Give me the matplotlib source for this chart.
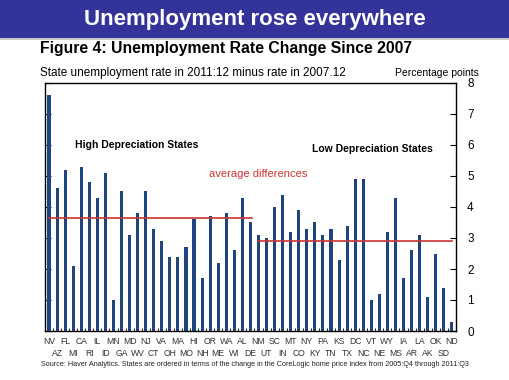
import numpy as np
import matplotlib
matplotlib.use("Agg")
import matplotlib.pyplot as plt
from matplotlib.patches import Rectangle
from matplotlib.transforms import blended_transform_factory, offset_copy

plt.rcParams['font.family'] = ['Liberation Sans', 'DejaVu Sans']

# states ordered by change in home price index (high depreciation first)
states = ["NV", "AZ", "FL", "MI", "CA", "RI", "IL", "ID", "MN", "GA", "MD", "WV", "NJ",
          "CT", "VA", "OH", "MA", "MO", "HI", "NH", "OR", "ME", "WA", "WI", "AL", "DE",
          "NM", "UT", "SC", "IN", "MT", "CO", "NY", "KY", "PA", "TN", "KS", "TX", "DC",
          "NC", "VT", "NE", "WY", "MS", "IA", "AR", "LA", "AK", "OK", "SD", "ND"]
change = [7.6, 4.6, 5.2, 2.1, 5.3, 4.8, 4.3, 5.1, 1.0, 4.5, 3.1, 3.8, 4.5,
          3.3, 2.9, 2.4, 2.4, 2.7, 3.6, 1.7, 3.7, 2.2, 3.8, 2.6, 4.3, 3.5,
          3.1, 3.0, 4.0, 4.4, 3.2, 3.9, 3.3, 3.5, 3.1, 3.3, 2.3, 3.4, 4.9,
          4.9, 1.0, 1.2, 3.2, 4.3, 1.7, 2.6, 3.1, 1.1, 2.5, 1.4, 0.3]
n_high = 26  # NV..DE are the high depreciation group

bar_color = "#1F447F"
red = "#CC3333"

fig = plt.figure(figsize=(5.1, 3.8), dpi=100)
fig.patch.set_facecolor("white")

# banner
fig.patches.append(Rectangle((0, 1 - 38 / 380), 1, 38 / 380, transform=fig.transFigure,
                             facecolor="#333399", edgecolor="none", zorder=0))
fig.patches.append(Rectangle((0, 1 - 40 / 380), 1, 2 / 380, transform=fig.transFigure,
                             facecolor="#C8C8C8", edgecolor="none", zorder=0))
fig.text(0.5, 1 - 19 / 380, "Unemployment rose everywhere", color="white",
         fontsize=16, fontweight="bold", ha="center", va="center")

fig.text(40 / 510, 1 - 48 / 380, "Figure 4: Unemployment Rate Change Since 2007",
         fontsize=11.3, fontweight="bold", ha="left", va="center")
fig.text(40 / 510, 1 - 73 / 380, "State unemployment rate in 2011:12 minus rate in 2007.12",
         fontsize=8.5, ha="left", va="center")
fig.text(479 / 510, 1 - 73 / 380, "Percentage points", fontsize=7.5, ha="right", va="center")

ax = fig.add_axes([45 / 510, 49 / 380, 411 / 510, 248 / 380])
x = np.arange(len(states))
ax.bar(x, change, width=0.38, color=bar_color, zorder=2)

high_avg = np.mean(change[:n_high])
low_avg = np.mean(change[n_high:])
ax.plot([0.0, n_high - 0.8], [high_avg, high_avg], color=red, lw=1.2, zorder=3)
ax.plot([n_high, len(states) - 1], [low_avg, low_avg], color=red, lw=1.2, zorder=3)

ax.set_xlim(-0.42, 50.52)
ax.set_ylim(0, 8)
ax.yaxis.tick_right()
ax.set_yticks(range(0, 9))
ax.tick_params(axis="y", direction="in", length=4, labelsize=8.5, pad=8,
               left=True, right=True, labelleft=False, labelright=True)
ax.set_xticks(np.arange(-0.5, len(states), 1), minor=True)
ax.set_xticks([])
ax.tick_params(axis="x", which="minor", direction="in", length=2)
for s in ax.spines.values():
    s.set_linewidth(1.0)

trans = blended_transform_factory(ax.transData, ax.transAxes)
for i, st in enumerate(states):
    off = -11 if i % 2 == 0 else -23
    ax.text(i, 0, st, fontsize=6.2, color="#333333", ha="center", va="center",
            transform=offset_copy(trans, fig=fig, y=off, units="dots"))

ax.text(10.9, 6.0, "High Depreciation States", fontsize=7.5, fontweight="bold",
        ha="center", va="center")
ax.text(40.1, 5.87, "Low Depreciation States", fontsize=7.5, fontweight="bold",
        ha="center", va="center")
ax.text(26.0, 5.05, "average differences", fontsize=8, color=red,
        ha="center", va="center")

fig.text(0.5, 1 - 364 / 380,
         "Source: Haver Analytics. States are ordered in terms of the change in the CoreLogic "
         "home price index from 2005:Q4 through 2011:Q3",
         fontsize=5.2, ha="center", va="center", color="#222222")

fig.savefig("out.png", dpi=100)
